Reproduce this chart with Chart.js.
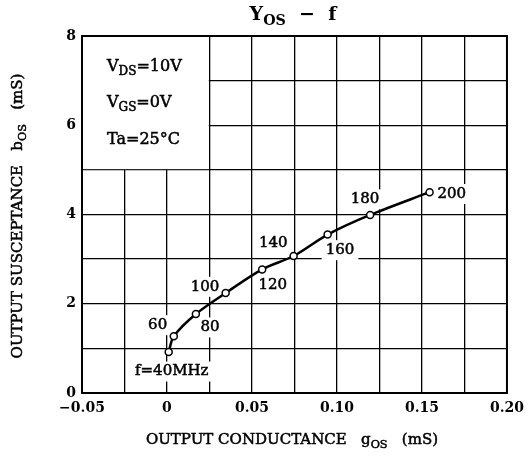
<!DOCTYPE html>
<html>
<head>
    <title>Yos - f</title>
    <script src="https://cdn.jsdelivr.net/npm/chart.js"></script>
    <style>
        body { margin: 0; background: #fff; }
        #wrap { width: 531px; height: 462px; }
    </style>
</head>
<body>
    <div id="wrap"><canvas id="myChart"></canvas></div>
    <script>
        // Данные: частота, проводимость g_os и восприимчивость b_os
        const freqMHz = [40, 60, 80, 100, 120, 140, 160, 180, 200];
        const gos = [0.001, 0.004, 0.017, 0.0345, 0.056, 0.0745, 0.0945, 0.1195, 0.1545];
        const bos = [0.92, 1.27, 1.77, 2.24, 2.77, 3.07, 3.55, 3.99, 4.50];

        // Подписи точек (в координатах данных)
        const pointLabels = ['f=40MHz', '60', '80', '100', '120', '140', '160', '180', '200'];
        const labelX = [0.0028, -0.0055, 0.0253, 0.0224, 0.0622, 0.0625, 0.1018, 0.1165, 0.1675];
        const labelY = [0.48, 1.52, 1.47, 2.38, 2.42, 3.37, 3.20, 4.34, 4.46];

        const xTickLabels = ['\u22120.05', '0', '0.05', '0.10', '0.15', '0.20'];
        const yTickLabels = ['0', '', '2', '', '4', '', '6', '', '8'];

        const serif = '"DejaVu Serif", "Liberation Serif", serif';

        // текст с подстрочными индексами (слегка обведён — "полужирный")
        function drawParts(ctx, parts, x, y, size, align, weight) {
            const wt = weight || 'normal';
            let w = 0;
            parts.forEach(p => {
                ctx.font = wt + ' ' + (p.sub ? size * 0.75 : size) + 'px ' + serif;
                w += ctx.measureText(p.t).width;
            });
            let cx = align === 'center' ? x - w / 2 : x;
            ctx.textAlign = 'left';
            ctx.textBaseline = 'middle';
            ctx.strokeStyle = '#000';
            ctx.lineWidth = 0.5;
            parts.forEach(p => {
                ctx.font = wt + ' ' + (p.sub ? size * 0.75 : size) + 'px ' + serif;
                const yy = p.sub ? y + size * 0.32 : y;
                ctx.fillText(p.t, cx, yy);
                if (wt === 'normal') ctx.strokeText(p.t, cx, yy);
                cx += ctx.measureText(p.t).width;
            });
        }

        const annotPlugin = {
            id: 'annot',
            beforeDatasetsDraw(chart) {
                const ctx = chart.ctx;
                const xs = chart.scales.x, ys = chart.scales.y;
                const a = chart.chartArea;
                ctx.save();
                ctx.fillStyle = '#fff';
                // белый блок под условия измерения
                const bx = xs.getPixelForValue(0.025), by = ys.getPixelForValue(5);
                ctx.fillRect(a.left, a.top, bx - a.left - 0.7, by - a.top - 0.7);
                // фон под подписи точек
                ctx.font = '15px ' + serif;
                pointLabels.forEach((t, i) => {
                    const w = ctx.measureText(t).width + 8;
                    const px = xs.getPixelForValue(labelX[i]);
                    const py = ys.getPixelForValue(labelY[i]);
                    ctx.fillRect(px - w / 2, py - 10, w, 20);
                });
                ctx.strokeStyle = '#000';
                ctx.lineWidth = 2;
                ctx.strokeRect(a.left, a.top, a.right - a.left, a.bottom - a.top);
                ctx.restore();
            },
            afterDatasetsDraw(chart) {
                const ctx = chart.ctx;
                const xs = chart.scales.x, ys = chart.scales.y;
                const a = chart.chartArea;
                ctx.save();
                ctx.fillStyle = '#000';
                pointLabels.forEach((t, i) => {
                    drawParts(ctx, [{t: t}], xs.getPixelForValue(labelX[i]), ys.getPixelForValue(labelY[i]), 15, 'center');
                });
                // условия
                const lx = a.left + 25;
                drawParts(ctx, [{t: 'V'}, {t: 'DS', sub: true}, {t: '=10V'}], lx, 67, 16);
                drawParts(ctx, [{t: 'V'}, {t: 'GS', sub: true}, {t: '=0V'}], lx, 103, 16);
                drawParts(ctx, [{t: 'Ta=25\u00B0C'}], lx, 140, 16);
                // заголовок
                drawParts(ctx, [{t: 'Y'}, {t: 'OS', sub: true}, {t: '  \u2212  f'}], 293, 15, 19, 'center', 'bold');
                // подписи осей
                drawParts(ctx, [{t: 'OUTPUT CONDUCTANCE   '}, {t: 'g'}, {t: 'OS', sub: true}, {t: '   (mS)'}], 292, 440, 15, 'center');
                ctx.translate(18, 216);
                ctx.rotate(-Math.PI / 2);
                drawParts(ctx, [{t: 'OUTPUT SUSCEPTANCE   '}, {t: 'b'}, {t: 'OS', sub: true}, {t: '   (mS)'}], 0, 0, 15, 'center');
                ctx.restore();
            }
        };

        const data = {
            datasets: [{
                label: 'Yos',
                data: gos.map((g, i) => ({x: g, y: bos[i]})),
                borderColor: '#000',
                borderWidth: 2.5,
                pointRadius: 3.5,
                pointBorderWidth: 1.5,
                pointBackgroundColor: '#fff',
                pointBorderColor: '#000',
                tension: 0.3,
                fill: false
            }]
        };

        const config = {
            type: 'scatter',
            data: data,
            options: {
                responsive: true,
                maintainAspectRatio: false,
                animation: false,
                showLine: true,
                layout: { padding: { left: 0, right: 24, top: 36, bottom: 0 } },
                plugins: { legend: { display: false }, tooltip: { enabled: false } },
                scales: {
                    x: {
                        type: 'linear',
                        min: -0.05,
                        max: 0.2,
                        afterFit: s => { s.height = 69; },
                        grid: { color: '#000', lineWidth: 1.3, drawTicks: false },
                        border: { color: '#000', width: 2 },
                        ticks: {
                            stepSize: 0.025,
                            autoSkip: false,
                            maxRotation: 0,
                            padding: 7,
                            color: '#000',
                            font: { family: serif, size: 14, weight: 'bold' },
                            callback: (v, i) => i % 2 === 0 ? xTickLabels[i / 2] : ''
                        }
                    },
                    y: {
                        min: 0,
                        max: 8,
                        afterFit: s => { s.width = 82; },
                        grid: { color: '#000', lineWidth: 1.3, drawTicks: false },
                        border: { color: '#000', width: 2 },
                        ticks: {
                            stepSize: 1,
                            autoSkip: false,
                            padding: 6,
                            color: '#000',
                            font: { family: serif, size: 14, weight: 'bold' },
                            callback: (v, i) => yTickLabels[i]
                        }
                    }
                }
            },
            plugins: [annotPlugin]
        };

        const myChart = new Chart(document.getElementById('myChart'), config);
    </script>
</body>
</html>
